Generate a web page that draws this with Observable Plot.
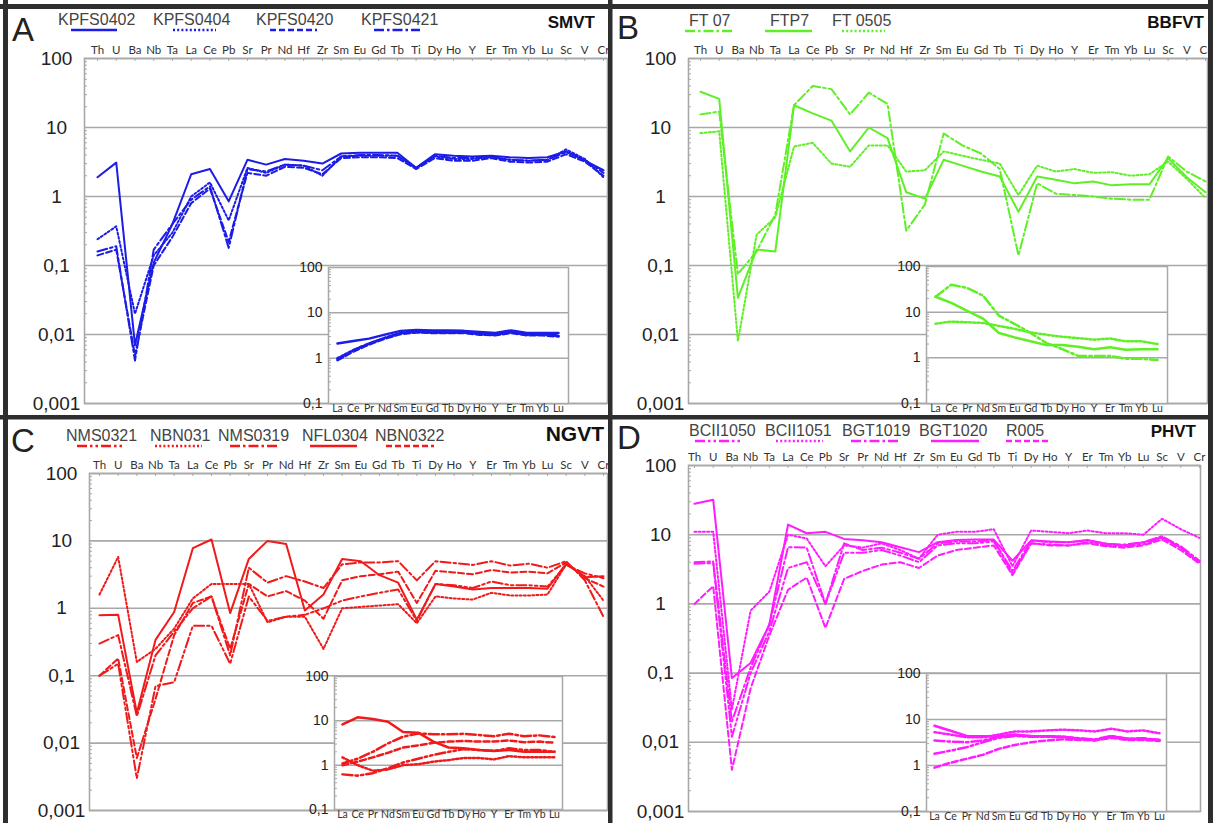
<!DOCTYPE html>
<html><head><meta charset="utf-8">
<script src="https://cdn.jsdelivr.net/npm/d3@7"></script>
<script src="https://cdn.jsdelivr.net/npm/@observablehq/plot@0.6"></script>
<style>
body{margin:0;background:#fff}
#root{position:relative;width:1213px;height:823px;overflow:hidden;background:#fff;font-family:"Liberation Sans",Arial,sans-serif}
#root svg{position:absolute}
</style></head><body><div id="root"></div>
<script>
// ---------- categories ----------
const elements = ["Th","U","Ba","Nb","Ta","La","Ce","Pb","Sr","Pr","Nd","Hf","Zr","Sm","Eu","Gd","Tb","Ti","Dy","Ho","Y","Er","Tm","Yb","Lu","Sc","V","Cr"];
const ree = ["La","Ce","Pr","Nd","Sm","Eu","Gd","Tb","Dy","Ho","Y","Er","Tm","Yb","Lu"];
const decades = [0.001, 0.01, 0.1, 1, 10, 100];
const insetDecades = [0.1, 1, 10, 100];

// ---------- panel A (SMVT) ----------
const namesA = ["KPFS0402","KPFS0404","KPFS0420","KPFS0421"];
const stylesA = ["solid","dot","dash","dashdot"];
const A_KPFS0402 = [1.9,3.1,0.007,0.11,0.4,2.1,2.5,0.85,3.4,2.9,3.5,3.3,3.0,4.2,4.3,4.3,4.3,2.6,4.1,3.9,3.8,3.9,3.7,3.6,3.7,4.5,3.3,2.4];
const A_KPFS0404 = [0.24,0.37,0.02,0.14,0.3,1.0,1.6,0.45,2.6,2.2,2.9,2.8,2.0,3.8,3.9,3.9,3.9,2.6,3.8,3.5,3.5,3.8,3.4,3.3,3.4,4.8,3.5,1.9];
const A_KPFS0420 = [0.14,0.17,0.005,0.1,0.26,0.8,1.3,0.22,2.2,2.0,2.7,2.6,2.1,3.6,3.7,3.7,3.6,2.5,3.6,3.3,3.3,3.6,3.2,3.1,3.2,4.1,3.2,2.0];
const A_KPFS0421 = [0.16,0.19,0.0042,0.17,0.4,0.9,1.4,0.18,2.5,2.3,2.9,2.8,2.4,3.8,4.0,4.0,3.9,2.6,3.9,3.6,3.6,3.7,3.4,3.3,3.4,4.4,3.4,2.2];
const Ai_KPFS0402 = [2.1,2.4,2.7,3.3,4.0,4.2,4.1,4.1,4.0,3.8,3.6,4.1,3.6,3.6,3.6];
const Ai_KPFS0404 = [1.0,1.5,2.1,2.8,3.6,3.9,3.8,3.7,3.7,3.4,3.3,3.8,3.3,3.4,3.2];
const Ai_KPFS0420 = [0.9,1.4,2.0,2.7,3.4,3.7,3.6,3.6,3.6,3.3,3.2,3.6,3.2,3.2,3.0];
const Ai_KPFS0421 = [0.95,1.5,2.1,2.8,3.6,3.8,3.7,3.7,3.7,3.5,3.3,3.7,3.3,3.3,3.1];

// ---------- panel B (BBFVT) ----------
const namesB = ["FT 07","FTP7","FT 0505"];
const stylesB = ["dashdot","solid","dot"];
const B_FT07 = [15.5,17,0.075,0.16,0.55,21,40,36,15.5,32,22,0.32,0.77,8.2,5.5,4.2,2.5,0.14,1.55,1.1,1.05,1.0,0.93,0.9,0.9,3.8,2.3,1.65];
const B_FTP7 = [33,26,0.034,0.17,0.16,21,16,12.6,4.5,10,7.0,1.15,0.93,3.4,2.8,2.3,1.95,0.6,1.95,1.75,1.55,1.65,1.45,1.5,1.5,3.6,1.9,1.15];
const B_FT0505 = [8.3,8.8,0.008,0.28,0.5,5.3,6.0,3.0,2.7,5.5,5.5,2.3,2.4,4.5,3.9,3.4,3.0,1.05,2.8,2.3,2.5,2.2,2.25,2.0,2.1,3.2,1.8,0.95];
const Bi_FT07 = [21.8,40,34,23,8.4,5.5,3.5,2.1,1.55,1.1,1.1,1.1,0.95,0.95,0.9];
const Bi_FTP7 = [21.8,16,10.7,7.2,3.5,2.8,2.3,1.9,1.9,1.75,1.55,1.7,1.5,1.55,1.55];
const Bi_FT0505 = [5.6,6.2,6.0,5.8,5.0,4.3,3.6,3.2,2.9,2.7,2.5,2.65,2.3,2.3,2.0];

// ---------- panel C (NGVT) ----------
const namesC = ["NMS0321","NBN031","NMS0319","NFL0304","NBN0322"];
const stylesC = ["dashdotdot","dot","dashdot","solid","dash"];
const C_NMS0321 = [0.1,0.15,0.003,0.07,0.08,0.55,0.55,0.15,1.5,0.65,0.75,0.8,1.0,1.3,1.5,1.7,1.9,0.65,2.3,2.2,2.0,2.5,2.2,2.2,2.1,4.4,3.3,2.8];
const C_NBN031 = [1.6,5.8,0.16,0.25,0.5,1.4,2.3,2.3,2.3,0.62,0.75,0.75,0.25,1.0,1.05,1.1,1.15,0.6,1.5,1.4,1.35,1.7,1.55,1.55,1.6,4.5,3.0,1.3];
const C_NMS0319 = [0.3,0.4,0.025,0.2,0.45,1.0,1.5,0.2,4.0,2.4,3.0,2.5,2.0,4.5,4.8,4.8,5.0,2.6,5.0,4.7,4.4,5.0,4.3,4.6,4.0,5.0,2.6,0.75];
const C_NFL0304 = [0.79,0.8,0.028,0.34,0.88,7.8,10.5,0.85,5.4,10,9,0.93,1.6,5.4,5.0,3.1,2.4,0.68,2.3,2.1,1.9,2.0,2.0,2.0,1.95,4.6,2.9,3.0];
const C_NBN0322 = [0.1,0.18,0.006,0.045,0.4,1.2,1.5,0.25,2.3,1.5,1.8,1.3,0.7,2.6,3.0,3.2,3.5,1.2,3.6,3.4,3.2,3.7,3.4,3.5,3.3,4.8,2.8,2.1];
const Ci_NMS0321 = [0.62,0.58,0.66,0.85,1.15,1.4,1.7,2.0,2.3,2.2,2.1,2.4,2.2,2.2,2.0];
const Ci_NBN031 = [1.5,1.0,0.75,0.8,1.0,1.05,1.2,1.3,1.45,1.45,1.35,1.6,1.5,1.5,1.5];
const Ci_NMS0319 = [1.1,1.4,2.0,3.1,4.4,5.2,5.0,5.0,5.1,4.8,4.5,5.1,4.5,4.7,4.3];
const Ci_NFL0304 = [8.3,12,11,9.5,5.6,5.4,3.4,2.5,2.4,2.2,2.1,2.2,2.0,2.0,2.0];
const Ci_NBN0322 = [1.0,1.2,1.5,1.9,2.5,2.8,3.2,3.4,3.5,3.4,3.4,3.6,3.3,3.4,3.2];

// ---------- panel D (PHVT) ----------
const namesD = ["BCII1050","BCII1051","BGT1019","BGT1020","R005"];
const stylesD = ["dashdotdot","dot","dashdot","solid","dash"];
const D_BCII1050 = [3.8,3.9,0.012,0.1,0.4,3.3,4.0,1.0,5.5,5.5,6.0,5.0,4.0,7.0,7.5,7.5,8.0,2.8,7.5,7.2,7.0,7.8,7.0,6.8,7.3,9.0,6.5,3.9];
const D_BCII1051 = [11,11,0.03,0.8,1.5,10,8.8,3.5,7.0,6.5,7.5,6.0,4.5,10,11,11,12,3.5,11.5,11,10.5,11.5,10.5,10.5,10,17,12,9];
const D_BGT1019 = [4.0,4.1,0.02,0.12,0.5,6.6,6.5,1.0,7.5,6.0,6.5,5.5,4.5,7.5,8.0,8.0,8.3,3.0,8.2,7.8,7.8,8.3,7.4,7.2,7.8,9.5,6.8,4.2];
const D_BGT1020 = [28,32,0.085,0.14,0.5,14,10.5,11,8.7,8.3,7.8,6.6,5.6,7.8,8.4,8.5,8.5,4.2,8.3,8.0,7.8,8.4,7.4,7.0,7.8,9.2,6.5,4.0];
const D_R005 = [1.0,1.8,0.004,0.06,0.35,1.6,2.4,0.45,2.3,3.0,3.7,4.0,3.3,5.0,6.0,6.5,7.0,2.6,7.5,7.0,7.0,7.5,6.8,6.5,7.0,8.5,6.0,3.8];
const Di_BCII1050 = [1.8,2.1,2.5,3.2,4.0,4.4,4.2,4.2,4.1,3.8,3.6,4.2,3.7,3.8,3.5];
const Di_BCII1051 = [5.3,4.7,4.1,4.1,4.7,5.5,5.5,5.8,6.0,5.8,5.5,6.3,5.5,5.8,5.0];
const Di_BGT1019 = [3.5,3.3,3.2,3.5,4.2,4.5,4.3,4.3,4.2,3.9,3.7,4.4,3.8,3.9,3.6];
const Di_BGT1020 = [7.3,5.7,4.4,4.3,4.3,4.7,4.4,4.3,4.2,3.8,3.6,4.3,3.8,3.8,3.6];
const Di_R005 = [0.9,1.15,1.4,1.7,2.3,2.8,3.2,3.5,3.7,3.6,3.5,4.0,3.6,3.6,3.4];

// ---------- styles ----------
const GRID = "#a8a8a8";
const DASH = {solid: undefined, dot: "2,2.2", dash: "6,3", dashdot: "10,3,2.5,3", dashdotdot: "10,3,2.5,3,2.5,3"};
const fmt = d => String(d).replace(".", ",");
const minorMain = decades.slice(0, -1).flatMap(d => d3.range(2, 10).map(m => m * d));
const minorInset = insetDecades.slice(0, -1).flatMap(d => d3.range(2, 10).map(m => m * d));

const panels = [
  {key:"A", letter:"A", title:"SMVT", color:"#1c1ce8", names:namesA, styles:stylesA,
   main:[A_KPFS0402,A_KPFS0404,A_KPFS0420,A_KPFS0421], inset:[Ai_KPFS0402,Ai_KPFS0404,Ai_KPFS0420,Ai_KPFS0421],
   g:{fl:84, fr:607, ft:58, fb:403, th:97, cr:603}, gi:{il:328, ir:568, it:267, ib:403, la:337, lu:558},
   letterPos:[12,41], titlePos:[595,28,17], legY:25, legLineY:30,
   legX:[58,153,256,361], legLine:[[71,117],[173,216],[270,317],[374,420]]},
  {key:"B", letter:"B", title:"BBFVT", color:"#5ef025", names:namesB, styles:stylesB,
   main:[B_FT07,B_FTP7,B_FT0505], inset:[Bi_FT07,Bi_FTP7,Bi_FT0505],
   g:{fl:688, fr:1207, ft:58, fb:403, th:700, cr:1205}, gi:{il:926, ir:1167, it:266, ib:403, la:935, lu:1157},
   letterPos:[617,39], titlePos:[1204,28,17], legY:26, legLineY:31,
   legX:[689,770,832], legLine:[[685,733],[765,812],[842,885]]},
  {key:"C", letter:"C", title:"NGVT", color:"#f01a1a", names:namesC, styles:stylesC,
   main:[C_NMS0321,C_NBN031,C_NMS0319,C_NFL0304,C_NBN0322], inset:[Ci_NMS0321,Ci_NBN031,Ci_NMS0319,Ci_NFL0304,Ci_NBN0322],
   g:{fl:89, fr:607, ft:473, fb:810, th:99, cr:603}, gi:{il:334, ir:562, it:676, ib:809, la:342, lu:554},
   letterPos:[11,452], titlePos:[604,441,21], legY:441, legLineY:446,
   legX:[66,150,218,302,375], legLine:[[77,124],[155,202],[230,277],[310,357],[386,434]]},
  {key:"D", letter:"D", title:"PHVT", color:"#ff1cff", names:namesD, styles:stylesD,
   main:[D_BCII1050,D_BCII1051,D_BGT1019,D_BGT1020,D_R005], inset:[Di_BCII1050,Di_BCII1051,Di_BGT1019,Di_BGT1020,Di_R005],
   g:{fl:688, fr:1200, ft:465, fb:811, th:694, cr:1199}, gi:{il:926, ir:1166, it:673, ib:811, la:934, lu:1159},
   letterPos:[617,449], titlePos:[1196,437,17], legY:436, legLineY:441,
   legX:[689,765,842,919,1006], legLine:[[695,743],[776,823],[851,899],[931,979],[1006,1050]]}
];

const root = document.getElementById("root");

function mainPlot(p) {
  const g = p.g, n = elements.length - 1;
  const k = (g.cr - g.th) / n;
  const x0 = -(g.th - g.fl) / k, x1 = n + (g.fr - g.cr) / k;
  const mL = 60, mT = 25, mR = 2, mB = 3;
  const perDecade = (g.fb - g.ft) / 5;
  const lines = p.names.map((name, s) => Plot.line(
    p.main[s].map((v, i) => ({name, i, v})),
    {x: "i", y: "v", stroke: p.color, strokeWidth: 2, strokeDasharray: DASH[p.styles[s]], strokeLinejoin: "round"}));
  const svg = Plot.plot({
    width: (g.fr - g.fl) + mL + mR, height: (g.fb - g.ft) + mT + mB,
    marginLeft: mL, marginTop: mT, marginRight: mR, marginBottom: mB,
    style: {background: "transparent", overflow: "visible"},
    x: {type: "linear", domain: [x0, x1], label: null},
    y: {type: "log", domain: [0.001, 100], label: null},
    marks: [
      Plot.ruleY(decades, {stroke: GRID, strokeWidth: 1.6}),
      Plot.frame({stroke: GRID, strokeWidth: 1.6}),
      Plot.ruleX(d3.range(elements.length), {x: d => d, y1: 100, y2: 100 * Math.pow(10, -3 / perDecade), stroke: GRID, strokeWidth: 1}),
      Plot.ruleY(minorMain, {y: d => d, x1: x0, x2: x0 + 3 / k, stroke: GRID, strokeWidth: 1}),
      ...lines,
      Plot.axisX({anchor: "top", label: null, ticks: d3.range(elements.length), tickFormat: i => elements[i], tickSize: 0, tickPadding: 5,
        fontSize: 11.5, fontFamily: "Lato, 'Liberation Sans', sans-serif", fill: "#333"}),
      Plot.axisY({anchor: "left", label: null, ticks: decades, tickFormat: fmt, tickSize: 0, tickPadding: 28, textAnchor: "middle",
        fontSize: 19, fontFamily: "'Liberation Sans', Arial, sans-serif", fill: "#222"})
    ]
  });
  svg.style.left = (g.fl - mL) + "px";
  svg.style.top = (g.ft - mT) + "px";
  root.appendChild(svg);
}

function insetPlot(p) {
  const g = p.gi, n = ree.length - 1;
  const k = (g.lu - g.la) / n;
  const x0 = -(g.la - g.il) / k, x1 = n + (g.ir - g.lu) / k;
  const mL = 34, mT = 8, mR = 2, mB = 14;
  const lines = p.names.map((name, s) => Plot.line(
    p.inset[s].map((v, i) => ({name, i, v})),
    {x: "i", y: "v", stroke: p.color, strokeWidth: 2.5, strokeDasharray: DASH[p.styles[s]], strokeLinejoin: "round"}));
  const svg = Plot.plot({
    width: (g.ir - g.il) + mL + mR, height: (g.ib - g.it) + mT + mB,
    marginLeft: mL, marginTop: mT, marginRight: mR, marginBottom: mB,
    style: {background: "transparent", overflow: "visible"},
    x: {type: "linear", domain: [x0, x1], label: null},
    y: {type: "log", domain: [0.1, 100], label: null},
    marks: [
      Plot.frame({fill: "white", stroke: GRID, strokeWidth: 1.5}),
      Plot.ruleY([1, 10], {stroke: GRID, strokeWidth: 1.5}),
      Plot.ruleY(minorInset, {y: d => d, x1: x0, x2: x0 + 3 / k, stroke: GRID, strokeWidth: 1}),
      ...lines,
      Plot.axisX({anchor: "bottom", label: null, ticks: d3.range(ree.length), tickFormat: i => ree[i], tickSize: 0, tickPadding: 1,
        fontSize: 10.5, fontFamily: "Lato, 'Liberation Sans', sans-serif", fill: "#333"}),
      Plot.axisY({anchor: "left", label: null, ticks: insetDecades, tickFormat: fmt, tickSize: 0, tickPadding: 6,
        fontSize: 14, fontFamily: "'Liberation Sans', Arial, sans-serif", fill: "#222"})
    ]
  });
  svg.style.left = (g.il - mL) + "px";
  svg.style.top = (g.it - mT) + "px";
  root.appendChild(svg);
}

panels.forEach(p => { mainPlot(p); insetPlot(p); });

// ---------- overlay: panel letters, legends, titles, borders ----------
const ns = "http://www.w3.org/2000/svg";
const ov = document.createElementNS(ns, "svg");
ov.setAttribute("width", 1213); ov.setAttribute("height", 823);
ov.style.left = "0px"; ov.style.top = "0px";
function el(tag, attrs, text) {
  const e = document.createElementNS(ns, tag);
  for (const k in attrs) e.setAttribute(k, attrs[k]);
  if (text != null) e.textContent = text;
  ov.appendChild(e); return e;
}
panels.forEach(p => {
  el("text", {x: p.letterPos[0], y: p.letterPos[1], "font-size": 33, "font-family": "'Liberation Sans', Arial, sans-serif", fill: "#222"}, p.letter);
  el("text", {x: p.titlePos[0], y: p.titlePos[1], "font-size": p.titlePos[2], "font-weight": "bold", "text-anchor": "end",
    "font-family": "'Liberation Sans', Arial, sans-serif", fill: "#111"}, p.title);
  p.names.forEach((name, s) => {
    el("text", {x: p.legX[s], y: p.legY, "font-size": 16, "font-family": "'Liberation Sans', Arial, sans-serif", fill: "#444"}, name);
    const [a, b] = p.legLine[s];
    const attrs = {x1: a, x2: b, y1: p.legLineY, y2: p.legLineY, stroke: p.color, "stroke-width": 2.6};
    if (DASH[p.styles[s]]) attrs["stroke-dasharray"] = DASH[p.styles[s]];
    el("line", attrs);
  });
});
const BORDER = "#2e2e2e";
el("rect", {x: 3, y: 0, width: 5, height: 823, fill: BORDER});
el("rect", {x: 0, y: 4, width: 1213, height: 5, fill: BORDER});
el("rect", {x: 1208, y: 0, width: 5, height: 823, fill: BORDER});
el("rect", {x: 608, y: 0, width: 4.5, height: 823, fill: BORDER});
el("rect", {x: 0, y: 415, width: 1213, height: 4.5, fill: BORDER});
root.appendChild(ov);
</script>
</body></html>
